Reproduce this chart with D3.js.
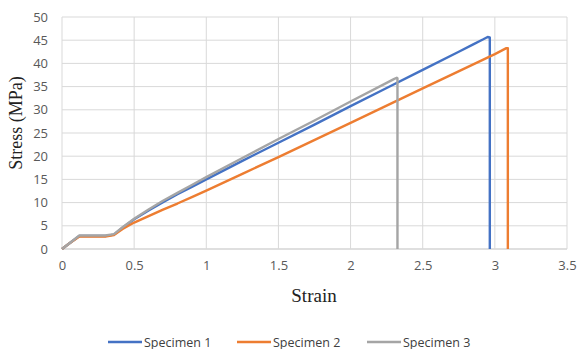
<!DOCTYPE html>
<html lang="en">
<head>
  <meta charset="UTF-8">
  <title>Stress-Strain</title>
  <style>
    body { margin: 0; background: #fff; }
    .tick text { font-family: "Open Sans", "Liberation Sans", sans-serif; font-size: 13px; fill: #595959; }
    .title { font-family: "Liberation Serif", "DejaVu Serif", serif; font-size: 19px; fill: #222; }
    .legend text { font-family: "Open Sans", "Liberation Sans", sans-serif; font-size: 12.5px; fill: #404040; }
  </style>
</head>
<body>
  <svg id="chart" width="579" height="349"></svg>
  <script src="https://d3js.org/d3.v7.min.js"></script>
  <script>
    // strain / stress pairs
    const specimen1 = [[0,0],[0.05,1.2],[0.12,2.8],[0.2,2.8],[0.3,2.8],[0.36,3.1],[0.42,4.6],[0.5,6.4],
      [0.6,8.3],[0.7,10.1],[0.8,11.8],[0.9,13.4],[1.0,15.0],[1.25,19.0],[1.5,22.9],[1.75,26.8],
      [2.0,30.8],[2.25,34.7],[2.5,38.6],[2.75,42.5],[2.85,44.1],[2.92,45.2],[2.95,45.7],[2.965,45.6],[2.965,0]];
    const specimen2 = [[0,0],[0.05,1.2],[0.12,2.7],[0.2,2.7],[0.3,2.7],[0.36,3.0],[0.42,4.3],[0.5,5.7],
      [0.6,7.1],[0.7,8.5],[0.8,9.8],[0.9,11.2],[1.0,12.6],[1.25,16.2],[1.5,19.8],[2.0,27.2],[2.5,34.6],
      [3.0,42.0],[3.08,43.3],[3.09,43.3],[3.09,0]];
    const specimen3 = [[0,0],[0.05,1.2],[0.12,2.9],[0.2,2.9],[0.3,2.9],[0.36,3.2],[0.42,4.7],[0.5,6.5],
      [0.6,8.5],[0.7,10.4],[0.8,12.1],[0.9,13.8],[1.0,15.5],[1.25,19.6],[1.5,23.7],[1.75,27.7],
      [2.0,31.8],[2.25,35.8],[2.3,36.6],[2.32,36.9],[2.325,36.8],[2.325,0]];
    const seriesNames = ["Specimen 1", "Specimen 2", "Specimen 3"];
    const colors = ["#4472C4", "#ED7D31", "#A5A5A5"];
    const xTicks = [0, 0.5, 1, 1.5, 2, 2.5, 3, 3.5];
    const yTicks = [0, 5, 10, 15, 20, 25, 30, 35, 40, 45, 50];

    const svg = d3.select("#chart");
    const x = d3.scaleLinear().domain([0, 3.5]).range([62, 567]);
    const y = d3.scaleLinear().domain([0, 50]).range([249, 17]);

    // grid
    svg.append("g").selectAll("line").data(yTicks).join("line")
      .attr("x1", x(0)).attr("x2", x(3.5))
      .attr("y1", d => y(d)).attr("y2", d => y(d))
      .attr("stroke", d => d === 0 ? "#bfbfbf" : "#d9d9d9").attr("stroke-width", 1);
    svg.append("g").selectAll("line").data(xTicks).join("line")
      .attr("x1", d => x(d)).attr("x2", d => x(d))
      .attr("y1", y(0)).attr("y2", y(50))
      .attr("stroke", "#d9d9d9").attr("stroke-width", 1);

    // axes (labels only)
    const xAxis = svg.append("g").attr("transform", `translate(0,${y(0)})`)
      .call(d3.axisBottom(x).tickValues(xTicks).tickSize(0).tickPadding(12).tickFormat(d3.format("")));
    xAxis.select(".domain").remove();
    const yAxis = svg.append("g").attr("transform", `translate(${x(0)},0)`)
      .call(d3.axisLeft(y).tickValues(yTicks).tickSize(0).tickPadding(14));
    yAxis.select(".domain").remove();

    // lines
    const line = d3.line().x(d => x(d[0])).y(d => y(d[1]));
    [specimen1, specimen2, specimen3].forEach((s, i) => {
      svg.append("path").datum(s)
        .attr("fill", "none")
        .attr("stroke", colors[i])
        .attr("stroke-width", 2.4)
        .attr("stroke-linejoin", "round")
        .attr("d", line);
    });

    // titles
    svg.append("text").attr("class", "title")
      .attr("x", 314).attr("y", 302).attr("text-anchor", "middle").text("Strain");
    svg.append("text").attr("class", "title")
      .style("font-size", "18px")
      .attr("transform", "translate(22,123) rotate(-90)")
      .attr("text-anchor", "middle").text("Stress (MPa)");

    // legend
    const legX = [108, 237, 367];
    const leg = svg.append("g").attr("class", "legend");
    seriesNames.forEach((n, i) => {
      leg.append("line").attr("x1", legX[i]).attr("x2", legX[i] + 34)
        .attr("y1", 342).attr("y2", 342)
        .attr("stroke", colors[i]).attr("stroke-width", 2.4);
      leg.append("text").attr("x", legX[i] + 36).attr("y", 346.5).text(n);
    });
  </script>
</body>
</html>
